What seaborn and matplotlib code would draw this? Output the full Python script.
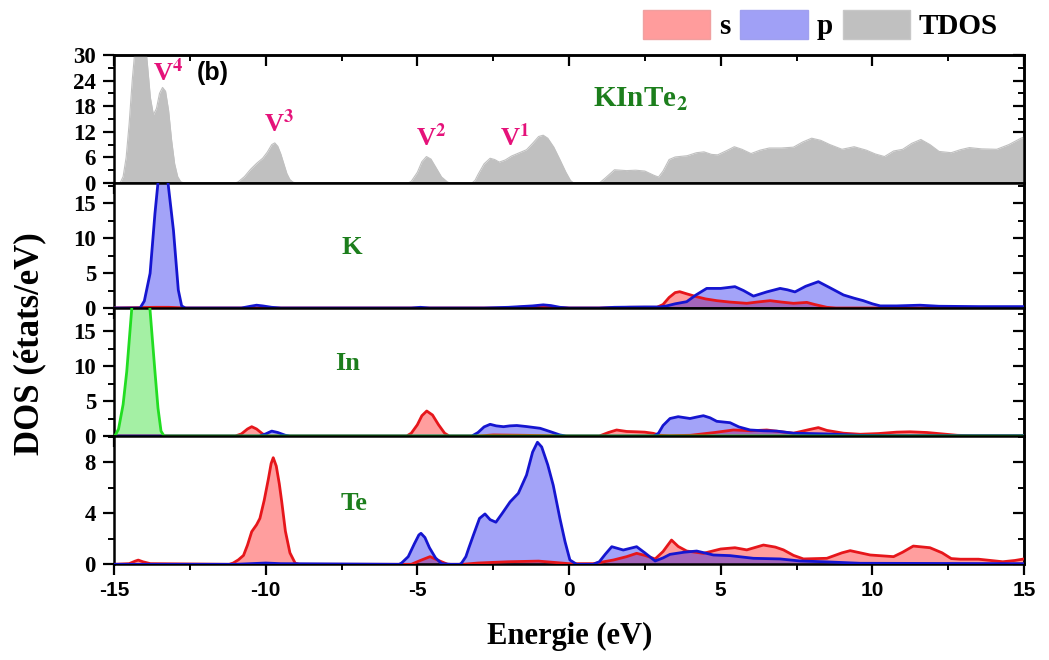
import matplotlib
matplotlib.use("Agg")
import numpy as np
import pandas as pd
import seaborn as sns
import matplotlib.pyplot as plt
from matplotlib.ticker import MultipleLocator
from matplotlib.patches import Patch

# ---------------- data ----------------
tdos_E = [-15.0, -14.8, -14.7, -14.6, -14.5, -14.4, -14.3, -14.2, -14.1, -14.0, -13.9, -13.8, -13.7,
          -13.6, -13.5, -13.4, -13.3, -13.2, -13.1, -13.0, -12.9, -12.8, -12.7, -11.0, -10.9, -10.7,
          -10.5, -10.3, -10.1, -9.95, -9.8, -9.7, -9.6, -9.5, -9.4, -9.3, -9.2, -9.1, -9.0, -5.3, -5.2,
          -5.0, -4.85, -4.7, -4.55, -4.4, -4.2, -4.0, -3.9, -3.2, -3.1, -3.0, -2.8, -2.6, -2.45, -2.3,
          -2.1, -1.9, -1.6, -1.4, -1.2, -1.0, -0.85, -0.7, -0.5, -0.3, -0.1, 0.05, 0.15, 1.0, 1.2, 1.5,
          1.7, 1.9, 2.2, 2.5, 2.8, 2.95, 3.1, 3.3, 3.5, 3.9, 4.2, 4.45, 4.7, 4.9, 5.2, 5.45, 5.7, 6.0,
          6.3, 6.6, 7.0, 7.4, 7.7, 8.0, 8.3, 8.6, 9.0, 9.4, 9.8, 10.1, 10.4, 10.7, 11.0, 11.3, 11.6,
          11.9, 12.2, 12.6, 12.9, 13.2, 13.6, 14.1, 14.5, 14.9, 15.0]
tdos_v = [0, 0, 1.5, 6, 14, 24, 32, 37, 38, 35, 28, 20, 16,
          17.5, 21, 22.4, 21.5, 17, 10, 4.5, 1.5, 0.3, 0, 0, 0.3, 1.5,
          3.2, 4.6, 5.8, 7.2, 9.0, 9.4, 8.6, 6.8, 4.5, 2.2, 0.8, 0.2, 0, 0, 0.4,
          2.5, 5.0, 6.2, 5.6, 3.8, 1.4, 0.2, 0, 0, 0.6, 2.0, 4.5, 5.8, 5.5, 4.9,
          5.4, 6.3, 7.2, 7.8, 9.3, 10.9, 11.2, 10.5, 8.4, 5.5, 2.5, 0.6, 0, 0, 1.2, 3.1,
          3.0, 2.9, 3.0, 2.8, 1.8, 1.4, 2.8, 5.5, 6.1, 6.4, 7.1, 7.3, 6.7, 6.6, 7.6, 8.5, 7.9, 6.9,
          7.7, 8.2, 8.2, 8.4, 9.6, 10.5, 10.0, 9.0, 7.9, 8.5, 7.7, 6.8, 6.2, 7.5, 7.9, 9.3, 10.2,
          9.0, 7.4, 7.1, 7.8, 8.3, 8.0, 7.9, 9.0, 10.5, 10.8]

K_s_E = [-15.0, -13.6, -13.2, -12.6, -2.0, -1.5, -1.0, -0.5, 0.0, 1.0, 2.0, 2.9, 3.1, 3.3, 3.5, 3.65,
         3.9, 4.2, 4.5, 4.87, 5.3, 5.86, 6.2, 6.63, 7.0, 7.4, 7.84, 8.1, 8.5, 8.8, 15.0]
K_s_v = [0, 0.1, 0.1, 0, 0, 0.15, 0.25, 0.1, 0, 0, 0.1, 0.1, 0.5, 1.5, 2.2, 2.33,
         2.0, 1.62, 1.3, 1.05, 0.85, 0.67, 0.85, 1.05, 0.85, 0.67, 0.8, 0.5, 0.1, 0, 0]
K_p_E = [-15.0, -14.14, -14.0, -13.81, -13.65, -13.55, -13.4, -13.22, -13.04, -12.88, -12.77, -12.65,
         -10.8, -10.5, -10.3, -10.1, -9.8, -9.5, -5.2, -4.9, -4.6, -2.8, -2.0, -1.2, -0.85, -0.6,
         -0.3, 0.0, 1.0, 1.5, 2.5, 3.0, 3.22, 3.5, 3.88, 4.2, 4.54, 5.0, 5.47, 5.75, 6.08, 6.3,
         6.52, 6.96, 7.2, 7.45, 7.8, 8.22, 8.6, 9.05, 9.4, 9.7, 10.0, 10.26, 10.8, 11.57, 12.2,
         13.5, 15.0]
K_p_v = [0, 0, 1.0, 4.95, 13.5, 17.9, 20.0, 17.9, 11.1, 2.57, 0.3, 0,
         0, 0.25, 0.4, 0.3, 0.1, 0, 0, 0.1, 0, 0, 0.1, 0.3, 0.45, 0.35,
         0.1, 0, 0, 0.1, 0.15, 0.15, 0.3, 0.6, 0.9, 1.9, 2.8, 2.8, 3.05, 2.5, 1.7, 2.0,
         2.3, 2.8, 2.6, 2.3, 3.1, 3.76, 2.9, 1.86, 1.4, 1.05, 0.6, 0.3, 0.3, 0.4, 0.25,
         0.2, 0.2]

In_s_E = [-15.0, -11.0, -10.8, -10.6, -10.46, -10.3, -10.1, -9.9, -5.35, -5.2, -5.0, -4.85, -4.69,
          -4.5, -4.3, -4.1, -3.95, -3.0, -2.5, -1.5, 0.0, 1.0, 1.3, 1.57, 1.9, 2.23, 2.5, 2.78, 3.0,
          3.3, 4.0, 4.8, 5.42, 6.0, 6.52, 7.0, 7.4, 7.9, 8.22, 8.5, 9.05, 9.6, 10.2, 10.8, 11.24,
          11.8, 12.3, 12.8, 13.3, 15.0]
In_s_v = [0, 0, 0.3, 1.0, 1.33, 1.0, 0.3, 0, 0, 0.4, 1.6, 2.9, 3.57,
          3.0, 1.6, 0.4, 0, 0, 0.15, 0.1, 0, 0, 0.5, 0.86, 0.65, 0.6, 0.55, 0.38, 0.1,
          0.05, 0.1, 0.5, 0.86, 0.75, 0.86, 0.6, 0.4, 0.9, 1.2, 0.8, 0.4, 0.25, 0.35, 0.55, 0.6,
          0.5, 0.3, 0.1, 0.05, 0.05]
In_p_E = [-15.0, -10.2, -10.0, -9.8, -9.6, -9.35, -9.2, -3.2, -3.0, -2.8, -2.6, -2.4, -2.16, -1.95,
          -1.72, -1.4, -0.95, -0.6, -0.3, -0.1, 2.8, 2.95, 3.1, 3.33, 3.6, 3.99, 4.2, 4.43, 4.65,
          4.87, 5.31, 5.6, 5.97, 6.4, 6.85, 7.4, 8.5, 9.5, 10.5, 15.0]
In_p_v = [0, 0, 0.3, 0.7, 0.5, 0.1, 0, 0, 0.5, 1.3, 1.67, 1.45, 1.33, 1.45,
          1.5, 1.35, 1.1, 0.6, 0.15, 0, 0, 0.4, 1.5, 2.5, 2.76, 2.5, 2.7, 2.9, 2.6,
          2.1, 1.9, 1.3, 0.86, 0.75, 0.7, 0.4, 0.3, 0.1, 0.05, 0.05]
In_d_E = [-15.0, -14.97, -14.85, -14.7, -14.58, -14.42, -14.3, -14.1, -13.95, -13.81, -13.65,
          -13.55, -13.45, -13.35, 15.0]
In_d_v = [0, 0, 1.0, 4.5, 9.2, 17.9, 24, 27, 24, 17.9, 9.2, 4, 0.7, 0, 0]

Te_s_E = [-15.0, -14.5, -14.3, -14.2, -14.05, -13.8, -11.2, -11.07, -10.9, -10.73, -10.6, -10.46,
          -10.3, -10.19, -10.05, -9.91, -9.82, -9.75, -9.65, -9.55, -9.47, -9.35, -9.2, -9.03, -8.9,
          -5.2, -4.9, -4.58, -4.3, -4.0, -3.5, -3.0, -2.0, -1.0, -0.5, 0.0, 0.8, 1.47, 1.9, 2.23,
          2.5, 2.84, 3.1, 3.38, 3.6, 3.88, 4.43, 5.0, 5.47, 5.86, 6.41, 6.8, 7.07, 7.4, 7.73, 8.5,
          9.0, 9.27, 9.6, 9.93, 10.7, 11.0, 11.35, 11.9, 12.3, 12.6, 12.9, 13.5, 14.3, 14.7, 15.0]
Te_s_v = [0, 0.05, 0.25, 0.33, 0.2, 0.05, 0, 0.1, 0.35, 0.7, 1.5, 2.56,
          3.1, 3.6, 5.0, 6.7, 7.9, 8.36, 7.7, 6.3, 4.9, 2.6, 0.9, 0.1, 0,
          0, 0.3, 0.6, 0.3, 0, 0, 0.1, 0.2, 0.25, 0.15, 0.05, 0.05, 0.34, 0.6, 0.86,
          0.7, 0.42, 1.0, 1.9, 1.4, 1.04, 0.86, 1.2, 1.3, 1.13, 1.51, 1.35, 1.13, 0.7, 0.42, 0.47,
          0.9, 1.07, 0.9, 0.73, 0.6, 0.95, 1.43, 1.3, 0.9, 0.45, 0.4, 0.4, 0.2, 0.3, 0.42]
Te_p_E = [-15.0, -11.0, -10.0, -9.5, -5.6, -5.52, -5.3, -5.1, -4.95, -4.88, -4.75, -4.6, -4.4, -4.2,
          -3.9, -3.6, -3.54, -3.4, -3.3, -3.15, -2.95, -2.77, -2.6, -2.41, -2.2, -1.94, -1.67, -1.4,
          -1.2, -1.04, -0.9, -0.7, -0.52, -0.3, -0.13, 0.03, 0.25, 0.8, 1.0, 1.2, 1.41, 1.79, 2.23,
          2.5, 2.84, 3.1, 3.33, 3.8, 4.21, 4.76, 5.31, 6.08, 6.96, 7.62, 8.4, 9.6, 15.0]
Te_p_v = [0, 0, 0.1, 0.05, 0, 0.1, 0.6, 1.6, 2.3, 2.43, 2.1, 1.3, 0.5, 0.05,
          0, 0, 0.1, 0.6, 1.3, 2.3, 3.6, 3.95, 3.5, 3.3, 4.0, 4.9, 5.57, 7.0,
          8.8, 9.57, 9.2, 7.8, 6.2, 3.6, 1.77, 0.34, 0, 0, 0.2, 0.8, 1.38, 1.12, 1.38,
          0.9, 0.26, 0.5, 0.78, 0.95, 1.04, 0.73, 0.68, 0.47, 0.42, 0.26, 0.2, 0.08, 0.05]

panel_names = ["KInTe$_\\mathbf{2}$", "K", "In", "Te"]
panel_ylims = [30, 17.86, 18.29, 10.06]
panel_major = [6, 5, 5, 4]
panel_minor = [3, 2.5, 2.5, 2]
peak_labels = ["V$^\\mathbf{4}$", "V$^\\mathbf{3}$", "V$^\\mathbf{2}$", "V$^\\mathbf{1}$"]
peak_pos = [(-13.2, 26.0), (-9.55, 14.0), (-4.55, 10.8), (-1.8, 10.8)]
legend_labels = ["s", "p", "TDOS"]

# ---------------- style ----------------
sns.set_style("ticks")
plt.rcParams["font.family"] = ["Liberation Serif", "DejaVu Serif"]
plt.rcParams["font.weight"] = "bold"
plt.rcParams["mathtext.fontset"] = "stix"
plt.rcParams["axes.unicode_minus"] = False
for key in ["text.color", "axes.labelcolor", "xtick.color", "ytick.color", "axes.edgecolor"]:
    plt.rcParams[key] = "black"

RED, BLUE, GREEN = "#E6161B", "#1515D0", "#22DD22"
FILL_S, FILL_P, FILL_D, GRAY = "#FF9C9C", "#A0A0F6", "#A4F0A4", "#C0C0C0"
LABEL_GREEN = "#1C7E1C"
PINK = "#E5127A"

fig = plt.figure(figsize=(10.49, 6.6), dpi=100)
L, W = 114 / 1049, 910 / 1049
rows = [(55, 183), (183, 308), (308, 436), (436, 564.3)]
axes = []
for top, bot in rows:
    ax = fig.add_axes([L, 1 - bot / 660, W, (bot - top) / 660])
    axes.append(ax)

def draw(ax, E, v, line, fill, alpha=1.0, lw=2.0):
    df = pd.DataFrame({"E": E, "v": v})
    ax.fill_between(df["E"], 0, df["v"], color=fill, alpha=alpha, lw=0, zorder=2)
    sns.lineplot(data=df, x="E", y="v", ax=ax, color=line, lw=lw, sort=False,
                 estimator=None, zorder=3)

# TDOS
df_t = pd.DataFrame({"E": tdos_E, "v": tdos_v})
axes[0].fill_between(df_t["E"], 0, df_t["v"], color=GRAY, lw=0, zorder=2)
sns.lineplot(data=df_t, x="E", y="v", ax=axes[0], color=GRAY, lw=0.8, sort=False, estimator=None)

# K
draw(axes[1], K_s_E, K_s_v, RED, "#FF0000", 0.38)
draw(axes[1], K_p_E, K_p_v, BLUE, "#0000EE", 0.36)
# In
draw(axes[2], In_s_E, In_s_v, RED, "#FF0000", 0.38)
draw(axes[2], In_p_E, In_p_v, BLUE, "#0000EE", 0.36)
draw(axes[2], In_d_E, In_d_v, GREEN, FILL_D, 1.0)
# Te
draw(axes[3], Te_s_E, Te_s_v, RED, "#FF0000", 0.38)
draw(axes[3], Te_p_E, Te_p_v, BLUE, "#0000EE", 0.36)

for i, ax in enumerate(axes):
    ax.set_xlim(-15, 15)
    ax.set_ylim(0, panel_ylims[i])
    ax.set_xlabel("")
    ax.set_ylabel("")
    ax.xaxis.set_major_locator(MultipleLocator(5))
    ax.xaxis.set_minor_locator(MultipleLocator(2.5))
    ax.yaxis.set_major_locator(MultipleLocator(panel_major[i]))
    ax.yaxis.set_minor_locator(MultipleLocator(panel_minor[i]))
    ax.tick_params(axis="both", which="major", direction="out", length=8, width=1.6,
                   labelsize=15, pad=2, color="black", labelcolor="black")
    ax.tick_params(axis="both", which="minor", direction="out", length=4.5, width=1.4,
                   color="black")
    ax.tick_params(axis="y", pad=5, labelsize=16.5)
    for sp in ax.spines.values():
        sp.set_visible(True)
        sp.set_linewidth(1.8)
        sp.set_color("black")
    if i < 3:
        ax.tick_params(axis="x", labelbottom=False)
    for lab in ax.get_yticklabels():
        lab.set_fontweight("bold")
    sec = ax.secondary_yaxis("right")
    sec.yaxis.set_major_locator(MultipleLocator(panel_major[i]))
    sec.yaxis.set_minor_locator(MultipleLocator(panel_minor[i]))
    sec.tick_params(which="major", direction="in", length=8, width=1.6, labelright=False,
                    color="black")
    sec.tick_params(which="minor", direction="in", length=4.5, width=1.4, color="black")
    sec.spines["right"].set_linewidth(1.8)
    sec.spines["right"].set_color("black")

secx = axes[0].secondary_xaxis("top")
secx.xaxis.set_major_locator(MultipleLocator(5))
secx.xaxis.set_minor_locator(MultipleLocator(2.5))
secx.tick_params(which="major", direction="in", length=8, width=1.6, labeltop=False, color="black")
secx.tick_params(which="minor", direction="in", length=4.5, width=1.4, color="black")
secx.spines["top"].set_linewidth(1.8)
secx.spines["top"].set_color("black")

for lab in axes[3].get_xticklabels():
    lab.set_fontfamily("Liberation Sans")
    lab.set_fontweight("bold")
    lab.set_fontsize(15)
axes[3].tick_params(axis="x", pad=4)

# annotations
axes[0].text(2.35, 19.5, panel_names[0], color=LABEL_GREEN, fontsize=21, fontweight="bold",
             ha="center", va="center")
axes[1].text(-7.15, 8.7, panel_names[1], color=LABEL_GREEN, fontsize=19, fontweight="bold",
             ha="center", va="center")
axes[2].text(-7.3, 10.4, panel_names[2], color=LABEL_GREEN, fontsize=19, fontweight="bold",
             ha="center", va="center")
axes[3].text(-7.1, 4.75, panel_names[3], color=LABEL_GREEN, fontsize=19, fontweight="bold",
             ha="center", va="center")
for lab, (x, y) in zip(peak_labels, peak_pos):
    axes[0].text(x, y, lab, color=PINK, fontsize=19, fontweight="bold", ha="center", va="center")
axes[0].text(-11.75, 25.8, "(b)", fontfamily="Liberation Sans", fontsize=18, fontweight="bold",
             ha="center", va="center", color="black")

fig.text(0.5435, 0.036, "Energie (eV)", fontsize=22, fontweight="bold", ha="center", va="center",
         color="black")
fig.text(0.028, 0.479, "DOS (états/eV)", fontsize=25, fontweight="bold", rotation=90,
         ha="center", va="center", color="black")

handles = [Patch(facecolor=FILL_S, edgecolor="#F0A0A0"),
           Patch(facecolor=FILL_P, edgecolor="#A0A0F0"),
           Patch(facecolor=GRAY, edgecolor="#C8C8C8")]
leg = fig.legend(handles, legend_labels, loc="center left", bbox_to_anchor=(0.613, 0.962), ncol=3,
                 frameon=False, handlelength=2.3, handleheight=1.17, handletextpad=0.3,
                 columnspacing=0.35, borderaxespad=0, borderpad=0,
                 prop={"family": "Liberation Serif", "weight": "bold", "size": 21})
for t in leg.get_texts():
    t.set_color("black")

fig.savefig("out.png", dpi=100)
